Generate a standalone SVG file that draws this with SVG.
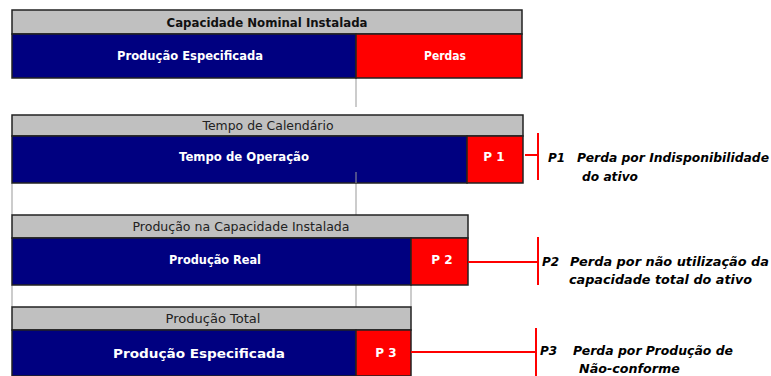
<svg xmlns="http://www.w3.org/2000/svg" width="771" height="376" viewBox="0 0 771 376">
<style>
.hdr{fill:#c0c0c0;stroke:#222;stroke-width:1.5}
.blue{fill:#000080;stroke:#222;stroke-width:1.5}
.red{fill:#ff0000;stroke:#222;stroke-width:1.5}
.grid{stroke:#999;stroke-width:1;fill:none}
.ht{font-family:"DejaVu Sans",sans-serif;font-size:12px;fill:#222;text-anchor:middle}
.hb{font-family:"DejaVu Sans",sans-serif;font-size:12px;font-weight:bold;fill:#111;text-anchor:middle}
.wt{font-family:"DejaVu Sans",sans-serif;font-size:12px;font-weight:bold;fill:#fff;text-anchor:middle}
.lab{font-family:"DejaVu Sans",sans-serif;font-size:12px;font-weight:bold;font-style:italic;fill:#000}
.con{stroke:#ff0000;stroke-width:2;fill:none}
</style>
<rect width="771" height="376" fill="#fff"/>
<g id="grid">
<line class="grid" x1="356" y1="78" x2="356" y2="107"/>
<line class="grid" x1="12" y1="183" x2="12" y2="215"/>
<line class="grid" x1="356" y1="172" x2="356" y2="215"/>
<line class="grid" x1="12" y1="285" x2="12" y2="307"/>
<line class="grid" x1="356" y1="285" x2="356" y2="307"/>
<line class="grid" x1="411" y1="285" x2="411" y2="307"/>
</g>
<g id="block1">
<rect class="hdr" x="12" y="10" width="510" height="24"/>
<text class="hb" x="267" y="27" textLength="201" lengthAdjust="spacingAndGlyphs">Capacidade Nominal Instalada</text>
<rect class="blue" x="12" y="34" width="344" height="44"/>
<text class="wt" x="190" y="60" textLength="146" lengthAdjust="spacingAndGlyphs">Produção Especificada</text>
<rect class="red" x="356" y="34" width="166" height="44" stroke="#999"/>
<text class="wt" x="445" y="60" textLength="42" lengthAdjust="spacingAndGlyphs">Perdas</text>
</g>
<g id="block2">
<rect class="hdr" x="12" y="115" width="511" height="21"/>
<text class="ht" x="268" y="130" textLength="131" lengthAdjust="spacingAndGlyphs">Tempo de Calendário</text>
<rect class="blue" x="12" y="136" width="455" height="47"/>
<text class="wt" x="244" y="161" textLength="130" lengthAdjust="spacingAndGlyphs">Tempo de Operação</text>
<line class="grid" x1="356" y1="172" x2="356" y2="183"/>
<rect class="red" x="467" y="136" width="56" height="47"/>
<text class="wt" x="494" y="161">P 1</text>
</g>
<g id="block3">
<rect class="hdr" x="12" y="215" width="456" height="23"/>
<text class="ht" x="241" y="231" textLength="217" lengthAdjust="spacingAndGlyphs">Produção na Capacidade Instalada</text>
<rect class="blue" x="12" y="238" width="399" height="47"/>
<text class="wt" x="215" y="264" textLength="92" lengthAdjust="spacingAndGlyphs">Produção Real</text>
<rect class="red" x="411" y="238" width="57" height="47"/>
<text class="wt" x="442" y="264">P 2</text>
</g>
<g id="block4">
<rect class="hdr" x="12" y="307" width="399" height="23"/>
<text class="ht" x="213" y="323" textLength="95" lengthAdjust="spacingAndGlyphs">Produção Total</text>
<rect class="blue" x="12" y="330" width="344" height="46"/>
<text class="wt" x="199" y="358" font-size="14" textLength="172" lengthAdjust="spacingAndGlyphs">Produção Especificada</text>
<rect class="red" x="356" y="330" width="55" height="46"/>
<text class="wt" x="386" y="357">P 3</text>
</g>
<g id="connectors">
<line class="con" x1="525" y1="155" x2="538" y2="155"/>
<line class="con" x1="538" y1="133" x2="538" y2="180"/>
<line class="con" x1="468" y1="262" x2="538" y2="262"/>
<line class="con" x1="538" y1="237" x2="538" y2="285"/>
<line class="con" x1="411" y1="352" x2="536" y2="352"/>
<line class="con" x1="536" y1="328" x2="536" y2="376"/>
</g>
<g id="label-p1">
<text class="lab" x="548" y="162">P1</text>
<text class="lab" x="577" y="162" textLength="192" lengthAdjust="spacingAndGlyphs">Perda por Indisponibilidade</text>
<text class="lab" x="582" y="181" textLength="56" lengthAdjust="spacingAndGlyphs">do ativo</text>
</g>
<g id="label-p2">
<text class="lab" x="542" y="266">P2</text>
<text class="lab" x="570" y="266" textLength="199" lengthAdjust="spacingAndGlyphs">Perda por não utilização da</text>
<text class="lab" x="569" y="284" textLength="183" lengthAdjust="spacingAndGlyphs">capacidade total do ativo</text>
</g>
<g id="label-p3">
<text class="lab" x="540" y="355">P3</text>
<text class="lab" x="573" y="355" textLength="160" lengthAdjust="spacingAndGlyphs">Perda por Produção de</text>
<text class="lab" x="579" y="373" textLength="101" lengthAdjust="spacingAndGlyphs">Não-conforme</text>
</g>
</svg>
